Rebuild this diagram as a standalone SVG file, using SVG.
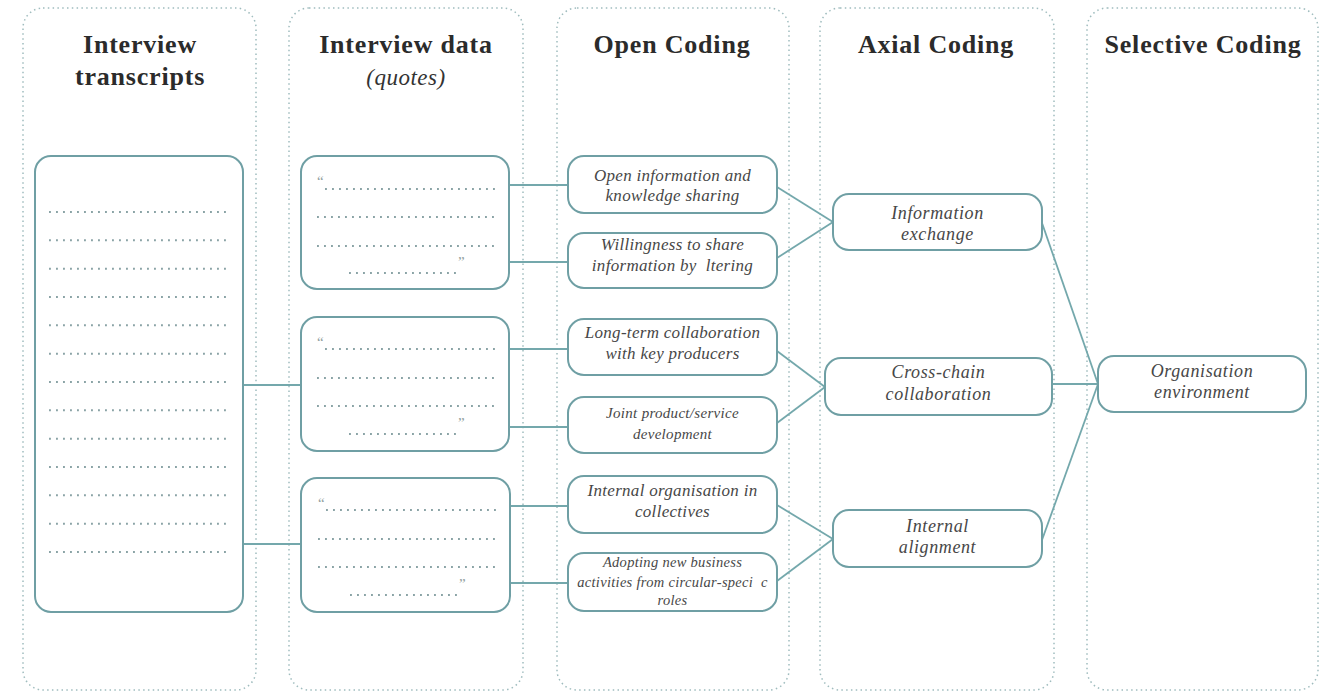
<svg xmlns="http://www.w3.org/2000/svg" width="1332" height="692" viewBox="0 0 1332 692">
  <style>
    .frame { fill: none; stroke: #9fbcbe; stroke-width: 1.5; stroke-dasharray: 1.5 3.3; }
    .title { font-family: "Liberation Serif", "DejaVu Serif", serif; font-weight: bold; font-size: 26px; letter-spacing: 0.8px; fill: #2b2b2b; text-anchor: middle; }
    .subtitle { font-family: "Liberation Serif", "DejaVu Serif", serif; font-style: italic; font-size: 23px; letter-spacing: 0.5px; fill: #333; text-anchor: middle; }
    .box { fill: #fff; stroke: #6f9fa4; stroke-width: 2; }
    .fill-dots { stroke: #8aa3a6; stroke-width: 1.9; stroke-dasharray: 1.9 5.1; }
    .qmark { font-family: "Liberation Serif", "DejaVu Serif", serif; font-size: 15px; fill: #939fa0; }
    .lbl { font-family: "Liberation Serif", "DejaVu Serif", serif; font-style: italic; font-size: 17px; letter-spacing: 0.3px; fill: #474747; text-anchor: middle; }
    .lbl-lg { font-size: 18px; letter-spacing: 0.6px; }
    .lbl-sm { font-size: 15px; letter-spacing: 0.3px; }
    .lbl-xs { font-size: 14.5px; letter-spacing: 0.3px; }
    .link { fill: none; stroke: #74a8ac; stroke-width: 1.8; }
  </style>

  <!-- stage columns -->
  <g id="columns">
    <rect class="frame" x="23" y="8" width="233" height="682" rx="20"/>
    <rect class="frame" x="289" y="8" width="234" height="682" rx="20"/>
    <rect class="frame" x="557" y="8" width="232" height="682" rx="20"/>
    <rect class="frame" x="820" y="8" width="234" height="682" rx="20"/>
    <rect class="frame" x="1087" y="8" width="231" height="682" rx="20"/>

    <text class="title" x="140" y="53">Interview</text>
    <text class="title" x="140" y="85">transcripts</text>
    <text class="title" x="406" y="53">Interview data</text>
    <text class="subtitle" x="406" y="85">(quotes)</text>
    <text class="title" x="672" y="53">Open Coding</text>
    <text class="title" x="936" y="53">Axial Coding</text>
    <text class="title" x="1203" y="53">Selective Coding</text>
  </g>

  <!-- connectors -->
  <g id="connectors">
    <path class="link" d="M243 385 H301"/>
    <path class="link" d="M243 544 H301"/>
    <path class="link" d="M509 185 H568"/>
    <path class="link" d="M509 262 H568"/>
    <path class="link" d="M509 349 H568"/>
    <path class="link" d="M509 427 H568"/>
    <path class="link" d="M510 506 H568"/>
    <path class="link" d="M510 583 H568"/>
    <path class="link" d="M777 187 L833 222"/>
    <path class="link" d="M777 258 L833 222"/>
    <path class="link" d="M777 351 L825 387"/>
    <path class="link" d="M777 423 L825 387"/>
    <path class="link" d="M777 505 L833 539"/>
    <path class="link" d="M777 581 L833 539"/>
    <path class="link" d="M1042 223 L1098 384"/>
    <path class="link" d="M1052 384 H1098"/>
    <path class="link" d="M1042 540 L1098 384"/>
  </g>

  <!-- interview transcripts -->
  <g id="transcripts">
    <rect class="box" x="35" y="156" width="208" height="456" rx="16"/>
    <path class="fill-dots" d="M49 212 H226 M49 240.3 H226 M49 268.7 H226 M49 297 H226 M49 325.3 H226 M49 353.7 H226 M49 382 H226 M49 410.3 H226 M49 438.7 H226 M49 467 H226 M49 495.3 H226 M49 523.7 H226 M49 552 H226"/>
  </g>

  <!-- quotes -->
  <g id="quote-1">
    <rect class="box" x="301" y="156" width="208" height="133" rx="16"/>
    <text class="qmark" x="317" y="186">“</text>
    <path class="fill-dots" d="M325 189 H497 M317 217 H497 M317 246 H497 M349 273 H456"/>
    <text class="qmark" x="458" y="267">”</text>
  </g>
  <g id="quote-2">
    <rect class="box" x="301" y="317" width="208" height="134" rx="16"/>
    <text class="qmark" x="317" y="347">“</text>
    <path class="fill-dots" d="M325 349 H497 M317 378 H497 M317 406 H497 M349 434 H456"/>
    <text class="qmark" x="458" y="428">”</text>
  </g>
  <g id="quote-3">
    <rect class="box" x="301" y="478" width="209" height="134" rx="16"/>
    <text class="qmark" x="318" y="508">“</text>
    <path class="fill-dots" d="M326 510 H498 M318 539 H498 M318 567 H498 M350 595 H457"/>
    <text class="qmark" x="459" y="589">”</text>
  </g>

  <!-- open codes -->
  <g id="open-info-sharing">
    <rect class="box" x="568" y="156" width="209" height="57" rx="16"/>
    <text class="lbl" x="672.5" y="181">Open information and</text>
    <text class="lbl" x="672.5" y="201">knowledge sharing</text>
  </g>
  <g id="willingness-to-share">
    <rect class="box" x="568" y="233" width="209" height="55" rx="16"/>
    <text class="lbl" x="672.5" y="250">Willingness to share</text>
    <text class="lbl" x="672.5" y="271">information by&#160;&#160;ltering</text>
  </g>
  <g id="long-term-collaboration">
    <rect class="box" x="568" y="319" width="209" height="56" rx="16"/>
    <text class="lbl" x="672.5" y="338">Long-term collaboration</text>
    <text class="lbl" x="672.5" y="359">with key producers</text>
  </g>
  <g id="joint-development">
    <rect class="box" x="568" y="397" width="209" height="56" rx="16"/>
    <text class="lbl lbl-sm" x="672.5" y="418">Joint product/service</text>
    <text class="lbl lbl-sm" x="672.5" y="439">development</text>
  </g>
  <g id="internal-organisation">
    <rect class="box" x="568" y="476" width="209" height="57" rx="16"/>
    <text class="lbl" x="672.5" y="496">Internal organisation in</text>
    <text class="lbl" x="672.5" y="517">collectives</text>
  </g>
  <g id="new-business-activities">
    <rect class="box" x="568" y="553" width="209" height="58" rx="16"/>
    <text class="lbl lbl-xs" x="672.5" y="567">Adopting new business</text>
    <text class="lbl lbl-xs" x="672.5" y="587">activities from circular-speci&#160;&#160;c</text>
    <text class="lbl lbl-xs" x="672.5" y="605">roles</text>
  </g>

  <!-- axial codes -->
  <g id="information-exchange">
    <rect class="box" x="833" y="194" width="209" height="56" rx="16"/>
    <text class="lbl lbl-lg" x="937.5" y="219">Information</text>
    <text class="lbl lbl-lg" x="937.5" y="240">exchange</text>
  </g>
  <g id="cross-chain-collaboration">
    <rect class="box" x="825" y="358" width="227" height="57" rx="16"/>
    <text class="lbl lbl-lg" x="938.5" y="378">Cross-chain</text>
    <text class="lbl lbl-lg" x="938.5" y="400">collaboration</text>
  </g>
  <g id="internal-alignment">
    <rect class="box" x="833" y="510" width="209" height="57" rx="16"/>
    <text class="lbl lbl-lg" x="937.5" y="532">Internal</text>
    <text class="lbl lbl-lg" x="937.5" y="553">alignment</text>
  </g>

  <!-- selective code -->
  <g id="organisation-environment">
    <rect class="box" x="1098" y="356" width="208" height="56" rx="16"/>
    <text class="lbl lbl-lg" x="1202" y="377">Organisation</text>
    <text class="lbl lbl-lg" x="1202" y="398">environment</text>
  </g>
</svg>
